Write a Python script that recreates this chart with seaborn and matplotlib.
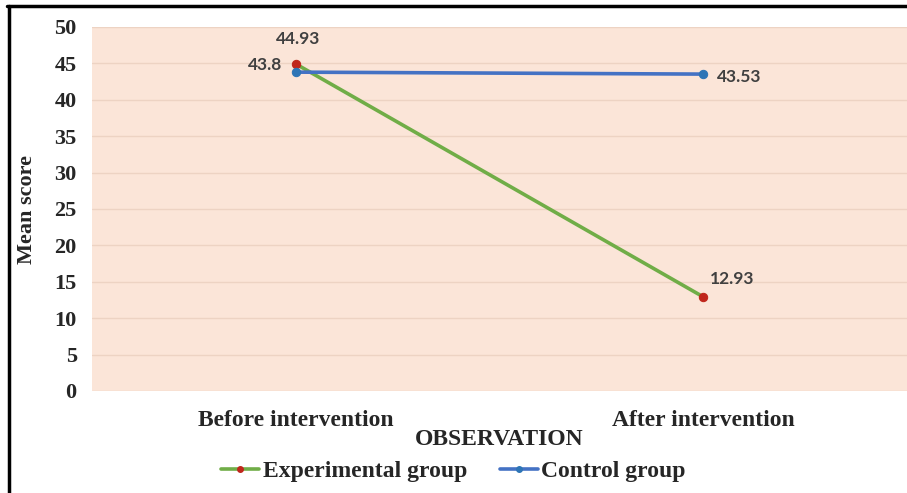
import pandas as pd
import numpy as np
import seaborn as sns
import matplotlib.pyplot as plt
from matplotlib.lines import Line2D

observations = ["Before intervention", "After intervention"]
groups = ["Experimental group", "Control group"]
experimental = [44.93, 12.93]
control = [43.8, 43.53]

data = pd.DataFrame({
    "observation": observations * 2,
    "group": [groups[0]] * 2 + [groups[1]] * 2,
    "score": experimental + control,
})
data["pos"] = [0, 1, 0, 1]

sns.set_style("white")
plt.rcParams["font.family"] = ["Liberation Serif", "DejaVu Serif"]

fig = plt.figure(figsize=(9.07, 4.93), dpi=100)
ax = fig.add_axes([92 / 907, 1 - 391 / 493, (907 - 92) / 907, (391 - 27) / 493])
ax.set_facecolor("#fbe5d8")

line_cols = {"Experimental group": "#70ad47", "Control group": "#4472c4"}
mark_cols = {"Experimental group": "#c0261c", "Control group": "#2e75b6"}

sns.lineplot(data=data, x="pos", y="score", hue="group", hue_order=groups,
             palette=line_cols, marker="o", markersize=6, linewidth=2.6,
             legend=False, ax=ax)
for ln, g in zip(ax.lines, groups):
    ln.set_markerfacecolor(mark_cols[g])
    ln.set_markeredgecolor(mark_cols[g])

# data labels
lab_font = dict(family=["Lato", "DejaVu Sans"], fontweight="bold", fontsize=12.5, color="#404040")
ax.annotate(f"{experimental[0]:g}", (0, experimental[0]), xytext=(2, 18),
            textcoords="offset points", ha="center", va="center", **lab_font)
ax.annotate(f"{control[0]:g}", (0, control[0]), xytext=(-10, 5),
            textcoords="offset points", ha="right", va="center", **lab_font)
ax.annotate(f"{control[1]:g}", (1, control[1]), xytext=(10, -2),
            textcoords="offset points", ha="left", va="center", **lab_font)
ax.annotate(f"{experimental[1]:g}", (1, experimental[1]), xytext=(5, 13),
            textcoords="offset points", ha="left", va="center", **lab_font)

ax.set_xlim(-0.5, 1.5)
ax.set_ylim(0, 50)
ax.set_yticks(np.arange(0, 51, 5))
ax.set_xticks([0, 1])
ax.set_xticklabels(observations)
ax.yaxis.grid(True, color="#edd3c3", linewidth=1)
ax.set_axisbelow(True)
for s in ax.spines.values():
    s.set_visible(False)
ax.tick_params(axis="both", length=0)
ax.tick_params(axis="y", pad=11, labelsize=16)
ax.tick_params(axis="x", pad=14, labelsize=17)
for t in ax.get_xticklabels() + ax.get_yticklabels():
    t.set_fontweight("bold")

ax.set_ylabel("Mean score", fontsize=16, fontweight="bold")
ax.yaxis.set_label_coords(-0.068, 0.5)
ax.set_xlabel("OBSERVATION", fontsize=17, fontweight="bold")
ax.xaxis.set_label_coords(0.5, -0.104)

handles = [Line2D([], [], color=line_cols[g], linewidth=2.6, marker="o", markersize=4,
                  markerfacecolor=mark_cols[g], markeredgecolor=mark_cols[g]) for g in groups]
fig.legend(handles, groups, loc="center", bbox_to_anchor=(0.5, 1 - 471 / 493), ncol=2,
           frameon=False, prop=dict(size=17, weight="bold"), handlelength=1.6,
           handletextpad=0.15, columnspacing=1.4)

# outer frame (top and left edges)
fig.add_artist(Line2D([8.5 / 907, 8.5 / 907], [0, 1 - 6 / 493], color="black", linewidth=2.5,
                      transform=fig.transFigure))
fig.add_artist(Line2D([7 / 907, 1], [1 - 6 / 493, 1 - 6 / 493], color="black", linewidth=2.5,
                      transform=fig.transFigure))

fig.savefig("out.png", dpi=100)
